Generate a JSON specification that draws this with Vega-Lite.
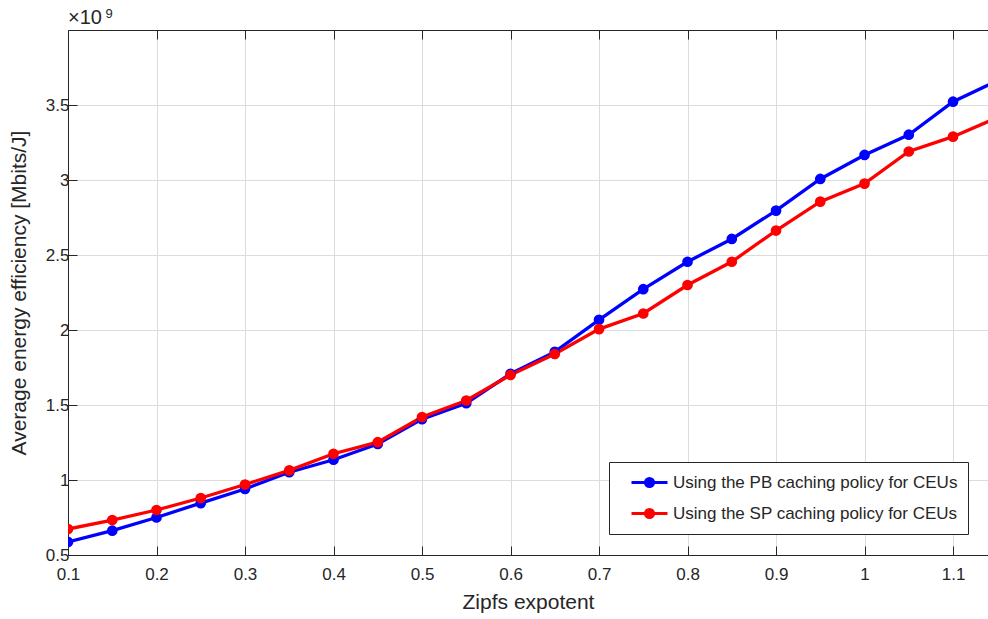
{
  "$schema": "https://vega.github.io/schema/vega-lite/v6.json",
  "width": 920,
  "height": 525,
  "autosize": {"type": "none"},
  "padding": {"left": 68, "top": 30, "right": 0, "bottom": 64},
  "background": "white",
  "config": {
    "font": "Liberation Sans",
    "view": {"stroke": null},
    "axis": {
      "labelFont": "Liberation Sans",
      "titleFont": "Liberation Sans",
      "labelColor": "#262626",
      "titleColor": "#262626",
      "domainColor": "#262626",
      "tickColor": "#262626",
      "gridColor": "#dcdcdc",
      "gridWidth": 1,
      "labelFontSize": 17,
      "labelFlush": false,
      "titleFontWeight": "normal",
      "titleFontSize": 21
    }
  },
  "title": {
    "text": "×10",
    "anchor": "start",
    "frame": "group",
    "fontSize": 20,
    "fontWeight": "normal",
    "color": "#262626",
    "font": "Liberation Sans",
    "baseline": "alphabetic",
    "offset": -37
  },
  "data": {
    "values": [
      {"x": 0.1, "y": 587000000, "s": "Using the PB caching policy for CEUs"},
      {"x": 0.15, "y": 662000000, "s": "Using the PB caching policy for CEUs"},
      {"x": 0.2, "y": 750000000, "s": "Using the PB caching policy for CEUs"},
      {"x": 0.25, "y": 846000000, "s": "Using the PB caching policy for CEUs"},
      {"x": 0.3, "y": 940000000, "s": "Using the PB caching policy for CEUs"},
      {"x": 0.35, "y": 1052000000, "s": "Using the PB caching policy for CEUs"},
      {"x": 0.4, "y": 1135000000, "s": "Using the PB caching policy for CEUs"},
      {"x": 0.45, "y": 1240000000, "s": "Using the PB caching policy for CEUs"},
      {"x": 0.5, "y": 1406000000, "s": "Using the PB caching policy for CEUs"},
      {"x": 0.55, "y": 1512000000, "s": "Using the PB caching policy for CEUs"},
      {"x": 0.6, "y": 1708000000, "s": "Using the PB caching policy for CEUs"},
      {"x": 0.65, "y": 1854000000, "s": "Using the PB caching policy for CEUs"},
      {"x": 0.7, "y": 2068000000, "s": "Using the PB caching policy for CEUs"},
      {"x": 0.75, "y": 2272000000, "s": "Using the PB caching policy for CEUs"},
      {"x": 0.8, "y": 2455000000, "s": "Using the PB caching policy for CEUs"},
      {"x": 0.85, "y": 2607000000, "s": "Using the PB caching policy for CEUs"},
      {"x": 0.9, "y": 2796000000, "s": "Using the PB caching policy for CEUs"},
      {"x": 0.95, "y": 3007000000, "s": "Using the PB caching policy for CEUs"},
      {"x": 1.0, "y": 3167000000, "s": "Using the PB caching policy for CEUs"},
      {"x": 1.05, "y": 3302000000, "s": "Using the PB caching policy for CEUs"},
      {"x": 1.1, "y": 3522000000, "s": "Using the PB caching policy for CEUs"},
      {"x": 1.15, "y": 3662000000, "s": "Using the PB caching policy for CEUs"},
      {"x": 0.1, "y": 673000000, "s": "Using the SP caching policy for CEUs"},
      {"x": 0.15, "y": 733000000, "s": "Using the SP caching policy for CEUs"},
      {"x": 0.2, "y": 800000000, "s": "Using the SP caching policy for CEUs"},
      {"x": 0.25, "y": 880000000, "s": "Using the SP caching policy for CEUs"},
      {"x": 0.3, "y": 970000000, "s": "Using the SP caching policy for CEUs"},
      {"x": 0.35, "y": 1064000000, "s": "Using the SP caching policy for CEUs"},
      {"x": 0.4, "y": 1175000000, "s": "Using the SP caching policy for CEUs"},
      {"x": 0.45, "y": 1252000000, "s": "Using the SP caching policy for CEUs"},
      {"x": 0.5, "y": 1420000000, "s": "Using the SP caching policy for CEUs"},
      {"x": 0.55, "y": 1530000000, "s": "Using the SP caching policy for CEUs"},
      {"x": 0.6, "y": 1700000000, "s": "Using the SP caching policy for CEUs"},
      {"x": 0.65, "y": 1840000000, "s": "Using the SP caching policy for CEUs"},
      {"x": 0.7, "y": 2006000000, "s": "Using the SP caching policy for CEUs"},
      {"x": 0.75, "y": 2110000000, "s": "Using the SP caching policy for CEUs"},
      {"x": 0.8, "y": 2300000000, "s": "Using the SP caching policy for CEUs"},
      {"x": 0.85, "y": 2455000000, "s": "Using the SP caching policy for CEUs"},
      {"x": 0.9, "y": 2663000000, "s": "Using the SP caching policy for CEUs"},
      {"x": 0.95, "y": 2856000000, "s": "Using the SP caching policy for CEUs"},
      {"x": 1.0, "y": 2976000000, "s": "Using the SP caching policy for CEUs"},
      {"x": 1.05, "y": 3190000000, "s": "Using the SP caching policy for CEUs"},
      {"x": 1.1, "y": 3289000000, "s": "Using the SP caching policy for CEUs"},
      {"x": 1.15, "y": 3416000000, "s": "Using the SP caching policy for CEUs"}
    ]
  },
  "layer": [
    {
      "mark": {"type": "line", "strokeWidth": 3.3, "clip": true, "point": {"filled": true, "size": 115, "opacity": 1}},
      "encoding": {
        "x": {
          "field": "x", "type": "quantitative",
          "scale": {"domain": [0.1, 1.1395], "nice": false, "zero": false},
          "axis": {
            "title": "Zipfs expotent",
            "values": [0.1, 0.2, 0.3, 0.4, 0.5, 0.6, 0.7, 0.8, 0.9, 1.0, 1.1],
            "format": "~g",
            "tickSize": -9,
            "labelPadding": 20,
            "titlePadding": 9,
            "grid": true
          }
        },
        "y": {
          "field": "y", "type": "quantitative",
          "scale": {"domain": [500000000, 4000000000], "nice": false, "zero": false},
          "axis": {
            "title": "Average energy efficiency [Mbits/J]",
            "values": [500000000, 1000000000, 1500000000, 2000000000, 2500000000, 3000000000, 3500000000],
            "labelExpr": "format(datum.value / 1e9, '~g')",
            "tickSize": -9,
            "labelPadding": 8,
            "titlePadding": 16,
            "grid": true
          }
        },
        "color": {
          "field": "s", "type": "nominal",
          "scale": {"domain": ["Using the PB caching policy for CEUs", "Using the SP caching policy for CEUs"], "range": ["#0000ff", "#ff0000"]},
          "legend": {
            "title": null,
            "orient": "none",
            "legendX": 541,
            "legendY": 432,
            "fillColor": "white",
            "strokeColor": "#262626",
            "padding": 10,
            "labelFontSize": 17,
            "labelLimit": 500,
            "labelColor": "#262626",
            "labelFont": "Liberation Sans",
            "symbolType": "M-2,0L2,0M0.45,0A0.45,0.45,0,1,1,-0.45,0A0.45,0.45,0,1,1,0.45,0Z",
            "symbolSize": 324,
            "symbolStrokeWidth": 3,
            "symbolOffset": 20,
            "labelOffset": 13,
            "rowPadding": 10,
            "cornerRadius": 0,
            "encode": {
              "symbols": {"update": {"fill": {"scale": "color", "field": "value"}, "stroke": {"scale": "color", "field": "value"}, "opacity": {"value": 1}}}
            }
          }
        }
      }
    },
    {
      "mark": {"type": "rule", "opacity": 0},
      "encoding": {
        "x": {
          "field": "x", "type": "quantitative",
          "axis": {
            "orient": "top",
            "title": "9",
            "titleFontSize": 13,
            "titleAlign": "left",
            "titleBaseline": "alphabetic",
            "titleAnchor": null,
            "titleX": 37,
            "titleY": -13,
            "labels": false,
            "values": [0.1, 0.2, 0.3, 0.4, 0.5, 0.6, 0.7, 0.8, 0.9, 1.0, 1.1],
            "tickSize": -9,
            "grid": false
          }
        }
      }
    }
  ],
  "resolve": {"axis": {"x": "independent"}}
}
